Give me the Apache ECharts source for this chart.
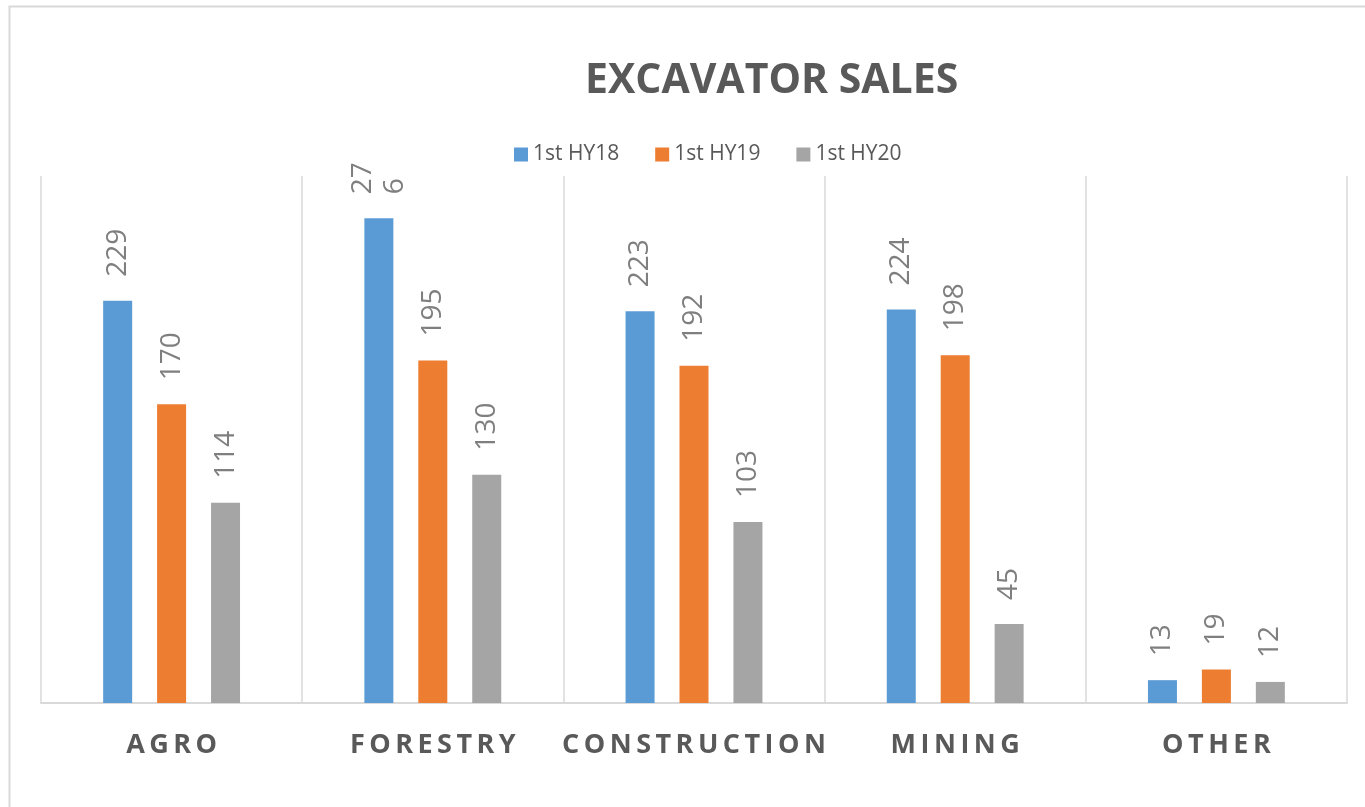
<!DOCTYPE html>
<html>
<head>
<meta charset="utf-8">
<title>Excavator Sales</title>
<script src="https://cdn.jsdelivr.net/npm/echarts@6/dist/echarts.min.js"></script>
<style>
  html, body { margin: 0; padding: 0; background: #fff; }
  #chart { width: 1365px; height: 807px; }
</style>
</head>
<body>
<div id="chart"></div>
<script>
// data
var categories = ['AGRO', 'FORESTRY', 'CONSTRUCTION', 'MINING', 'OTHER'];
var seriesNames = ['1st HY18', '1st HY19', '1st HY20'];
var hy18 = [229, 276, 223, 224, 13];
var hy19 = [170, 195, 192, 198, 19];
var hy20 = [114, 130, 103, 45, 12];
var colors = ['#5B9BD5', '#ED7D31', '#A5A5A5'];

var textColor = '#595959';
var font = '"Open Sans", "Liberation Sans", sans-serif';

// spread the letters a little like the original
function spaced(s) {
    return s.split('').join('\u2009');
}

function makeSeries(name, values, color) {
    var data = values.map(function (v) {
        // the 276 label wraps in the original
        if (v === 276) {
            return { value: v, label: { formatter: '27\n6' } };
        }
        return v;
    });
    return {
        name: name,
        type: 'bar',
        data: data,
        barWidth: 29,
        barGap: '86%',
        itemStyle: { color: color },
        label: {
            show: true,
            position: 'top',
            rotate: 90,
            align: 'left',
            verticalAlign: 'middle',
            distance: 24,
            color: '#7F7F7F',
            fontSize: 28,
            fontFamily: font,
            lineHeight: 32
        }
    };
}

var myChart = echarts.init(document.getElementById('chart'));
var option = {
    backgroundColor: '#fff',
    animation: false,
    graphic: [{
        type: 'rect',
        shape: { x: 9.5, y: 6.5, width: 1400, height: 900 },
        style: { fill: 'none', stroke: '#D9D9D9', lineWidth: 2 },
        silent: true
    }],
    title: {
        text: 'EXCAVATOR SALES',
        left: 580,
        top: 56,
        textStyle: {
            color: textColor,
            fontSize: 41,
            fontWeight: 'bold',
            fontFamily: font
        }
    },
    legend: {
        data: seriesNames,
        top: 139,
        left: 509,
        itemWidth: 14,
        itemHeight: 14,
        itemGap: 36,
        icon: 'rect',
        textStyle: {
            color: textColor,
            fontSize: 21,
            fontFamily: font
        }
    },
    grid: {
        left: 41,
        right: 18,
        top: 176,
        bottom: 104
    },
    xAxis: {
        type: 'category',
        data: categories,
        axisTick: { show: false },
        axisLine: {
            lineStyle: { color: '#D9D9D9', width: 2 }
        },
        splitLine: {
            show: true,
            lineStyle: { color: '#D9D9D9', width: 1.5 }
        },
        axisLabel: {
            interval: 0,
            margin: 29,
            color: textColor,
            fontSize: 27,
            fontWeight: 'bold',
            fontFamily: font,
            formatter: function (value) {
                return spaced(value);
            }
        }
    },
    yAxis: {
        type: 'value',
        min: 0,
        max: 300,
        show: false,
        splitLine: { show: false }
    },
    series: [
        makeSeries(seriesNames[0], hy18, colors[0]),
        makeSeries(seriesNames[1], hy19, colors[1]),
        makeSeries(seriesNames[2], hy20, colors[2])
    ]
};
myChart.setOption(option);
</script>
</body>
</html>
